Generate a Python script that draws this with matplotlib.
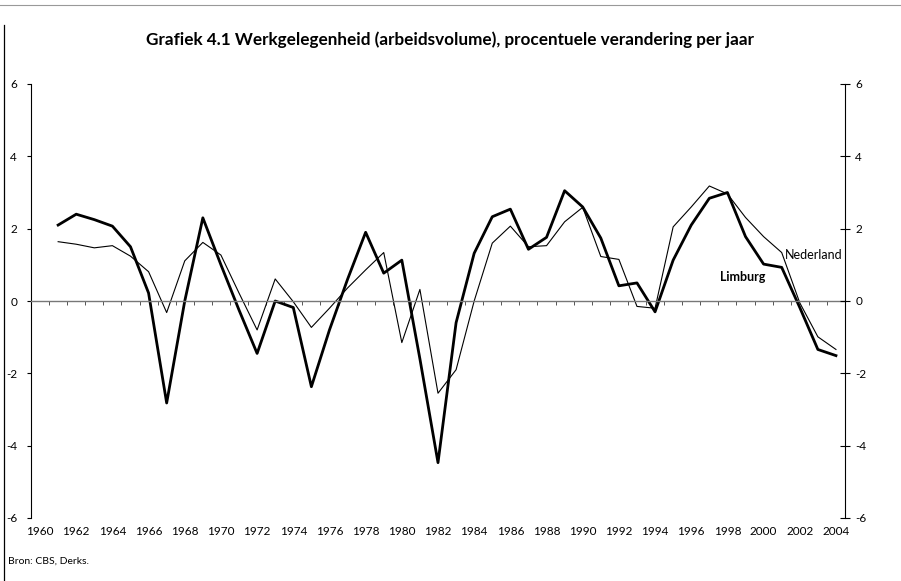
import numpy as np
import matplotlib.pyplot as plt
from matplotlib.lines import Line2D

plt.rcParams['font.family'] = ['Lato', 'DejaVu Sans']

# Werkgelegenheid (arbeidsvolume), % verandering per jaar
years = list(range(1961, 2005))
limburg = [2.1, 2.4, 2.25, 2.07, 1.5, 0.22, -2.82, 0.0, 2.3, 1.0,
           -0.25, -1.45, 0.0, -0.18, -2.37, -0.8, 0.6, 1.9, 0.77, 1.13,
           -1.6, -4.47, -0.6, 1.32, 2.33, 2.54, 1.43, 1.76, 3.05, 2.6,
           1.74, 0.42, 0.5, -0.3, 1.13, 2.1, 2.84, 3.0, 1.78, 1.02,
           0.93, -0.18, -1.34, -1.51]
nederland = [1.64, 1.57, 1.47, 1.53, 1.24, 0.81, -0.32, 1.11, 1.62, 1.27,
             0.22, -0.8, 0.61, -0.02, -0.73, -0.2, 0.36, 0.86, 1.34, -1.15,
             0.32, -2.55, -1.9, 0.0, 1.6, 2.07, 1.5, 1.53, 2.19, 2.59,
             1.23, 1.15, -0.15, -0.2, 2.05, 2.6, 3.18, 2.96, 2.31, 1.78,
             1.34, -0.05, -0.99, -1.34]
label_years = list(range(1960, 2005, 2))
y_ticks = [-6, -4, -2, 0, 2, 4, 6]

fig = plt.figure(figsize=(9.01, 5.81), dpi=100)
ax = fig.add_axes([31 / 901, 1 - 518 / 581, (845 - 31) / 901, (518 - 84) / 581])

ax.plot(years, nederland, color='black', linewidth=0.8)
ax.plot(years, limburg, color='black', linewidth=2.0)

ax.set_xlim(1959.5, 2004.5)
ax.set_ylim(-6, 6)

# zero line as x-axis with a small tick at every year boundary
ax.spines['top'].set_visible(False)
ax.spines['bottom'].set_position(('data', 0))
ax.spines['bottom'].set_color('#777777')
ax.spines['bottom'].set_linewidth(1.0)
ax.spines['left'].set_linewidth(0.8)
ax.spines['right'].set_visible(False)
ax.set_xticks(np.arange(1959.5, 2005, 1))
ax.tick_params(axis='x', direction='out', length=3, width=0.7,
               color='#555555', labelbottom=False)

ax.set_yticks(y_ticks)
ax.set_yticklabels([str(v) for v in y_ticks])
ax.tick_params(axis='y', direction='out', length=3, width=0.8,
               labelsize=8.5, pad=7)

# year labels at the bottom
sec = ax.secondary_xaxis(-0.0)
sec.spines['bottom'].set_visible(False)
sec.set_xticks(label_years)
sec.set_xticklabels([str(y) for y in label_years])
sec.tick_params(length=0, labelsize=8.5, pad=6)

# right axis
ax2 = ax.twinx()
ax2.set_ylim(-6, 6)
ax2.set_yticks(y_ticks)
ax2.set_yticklabels([str(v) for v in y_ticks])
for s in ['top', 'bottom', 'left']:
    ax2.spines[s].set_visible(False)
ax2.spines['right'].set_linewidth(0.8)
ax2.tick_params(axis='y', direction='inout', length=7, width=0.8,
                labelsize=8.5, pad=4)

ax.text(2001.2, 1.27, 'Nederland', fontsize=9, va='center', ha='left')
ax.text(1997.6, 0.66, 'Limburg', fontsize=9, fontweight='bold',
        va='center', ha='left')

fig.text(0.5, 1 - 40 / 581,
         'Grafiek 4.1 Werkgelegenheid (arbeidsvolume), procentuele verandering per jaar',
         ha='center', va='center', fontsize=12.3, fontweight='bold')
fig.text(8 / 901, 1 - 561 / 581, 'Bron: CBS, Derks.', fontsize=7.5,
         ha='left', va='center')

# page frame remnants
fig.add_artist(Line2D([4 / 901, 4 / 901], [0, 1 - 25 / 581],
                      color='black', linewidth=0.9))
fig.add_artist(Line2D([0, 1], [1 - 5 / 581, 1 - 5 / 581],
                      color='#999999', linewidth=0.8))

fig.savefig('out.png', dpi=100)
